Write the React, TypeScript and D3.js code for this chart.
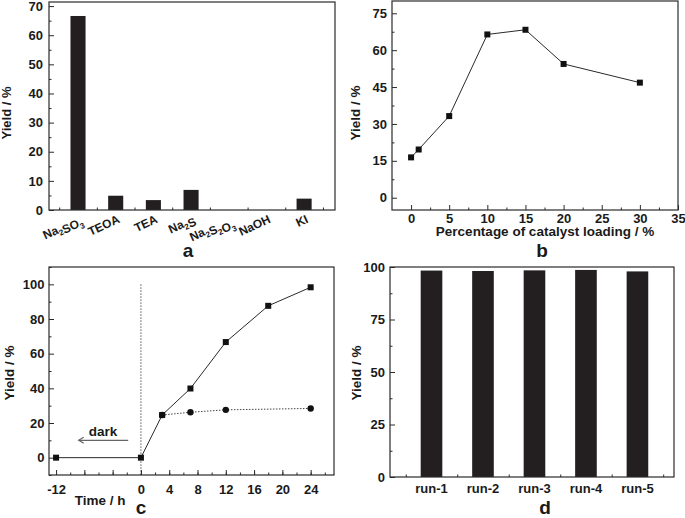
import * as d3 from 'd3';
import { useEffect, useRef } from 'react';

// panel a: sacrificial agents
const reagents = ['Na2SO3', 'TEOA', 'TEA', 'Na2S', 'Na2S2O3', 'NaOH', 'KI'];
const reagentYield = [66.6, 4.9, 3.4, 6.9, 0, 0, 3.9];
const yTicksA = [0, 10, 20, 30, 40, 50, 60, 70];

// panel b: catalyst loading
const loading = [0, 1, 5, 10, 15, 20, 30];
const loadingYield = [16.4, 19.6, 33.2, 66.4, 68.3, 54.4, 46.8];
const xTicksB = [0, 5, 10, 15, 20, 25, 30, 35];
const yTicksB = [0, 15, 30, 45, 60, 75];

// panel c: time course
const timeLight = [-12, 0, 3, 7, 12, 18, 24];
const yieldLight = [0, 0, 24.6, 39.9, 66.7, 87.6, 98.3];
const timeDark = [3, 7, 12, 24];
const yieldDark = [24.6, 26.2, 27.6, 28.4];
const xTicksC = [-12, 0, 4, 8, 12, 16, 20, 24];
const yTicksC = [0, 20, 40, 60, 80, 100];

// panel d: recycling
const runs = ['run-1', 'run-2', 'run-3', 'run-4', 'run-5'];
const runYield = [98.3, 98.1, 98.4, 98.6, 97.9];
const yTicksD = [0, 25, 50, 75, 100];

const font = "'Liberation Sans', Arial, sans-serif";
const ink = '#2a2a2a';
const barFill = '#231f20';
const tickSize = 13;
const titleSize = 13.5;

type G = d3.Selection<SVGGElement, unknown, null, undefined>;
type Lin = d3.ScaleLinear<number, number>;

function range(a: number, b: number, s: number) {
  return d3.range(a, b + s / 2, s);
}

function frame(
  g: G, x: Lin, y: Lin,
  o: { xMajor: number[]; xMinor: number[]; xLabels: boolean; xPad: number;
       yMajor: number[]; yMinor: number[]; yPad: number; xFmt?: (d: number) => string }
) {
  const [x0, x1] = x.range();
  const [y0, y1] = y.range();
  const bottom = g.append('g').attr('transform', `translate(0,${y0})`);
  bottom.call(d3.axisBottom(x).tickValues(o.xMinor).tickSize(-2.5).tickFormat(() => ''));
  bottom.append('g').call(
    d3.axisBottom(x).tickValues(o.xMajor).tickSize(-5).tickPadding(o.xPad)
      .tickFormat((d) => (o.xLabels ? (o.xFmt ? o.xFmt(+d) : String(d)) : ''))
  );
  const left = g.append('g').attr('transform', `translate(${x0},0)`);
  left.call(d3.axisLeft(y).tickValues(o.yMinor).tickSize(-2.5).tickFormat(() => ''));
  left.append('g').call(
    d3.axisLeft(y).tickValues(o.yMajor).tickSize(-5).tickPadding(o.yPad).tickFormat((d) => String(d))
  );
  g.selectAll('.domain').remove();
  g.selectAll('.tick line').attr('stroke', ink).attr('stroke-width', 1);
  g.selectAll('.tick text')
    .attr('font-family', font).attr('font-weight', 'bold').attr('font-size', tickSize).attr('fill', '#1a1a1a');
  g.append('rect')
    .attr('x', x0).attr('y', y1).attr('width', x1 - x0).attr('height', y0 - y1)
    .attr('fill', 'none').attr('stroke', ink).attr('stroke-width', 1.2);
}

function label(g: G, txt: string, x: number, y: number, size: number, rotate = false) {
  g.append('text')
    .attr('transform', rotate ? `translate(${x},${y}) rotate(-90)` : `translate(${x},${y})`)
    .attr('text-anchor', 'middle')
    .attr('font-family', font).attr('font-weight', 'bold').attr('font-size', size)
    .attr('fill', '#1a1a1a')
    .text(txt);
}

const App = () => {
  const ref = useRef<SVGSVGElement | null>(null);

  useEffect(() => {
    if (!ref.current) return;
    const svg = d3.select(ref.current);
    svg.selectAll('*').remove();

    // ---------- a ----------
    const ga: G = svg.append('g');
    const xa = d3.scaleLinear().domain([0.23, 7.82]).range([49, 335]);
    const ya = d3.scaleLinear().domain([0, 71.4]).range([210, 2]);
    ga.selectAll('rect.bar').data(reagentYield).enter().append('rect')
      .attr('class', 'bar')
      .attr('x', (_, i) => xa(i + 1) - (xa(1.2) - xa(1)))
      .attr('width', (xa(1.4) - xa(1)))
      .attr('y', (d) => ya(d))
      .attr('height', (d) => ya(0) - ya(d))
      .attr('fill', barFill);
    frame(ga, xa, ya, {
      xMajor: [], xMinor: range(0.5, 7.5, 1), xLabels: false, xPad: 5,
      yMajor: yTicksA, yMinor: range(5, 65, 10), yPad: 6,
    });
    reagents.forEach((name, i) => {
      const t = ga.append('text')
        .attr('transform', `translate(${xa(i + 1) + 5},${222}) rotate(-25)`)
        .attr('text-anchor', 'end')
        .attr('font-family', font).attr('font-weight', 'bold').attr('font-size', 12)
        .attr('fill', '#1a1a1a');
      const parts = name.match(/[A-Za-z]+|\d+/g) || [];
      parts.forEach((p) => {
        if (/\d/.test(p)) {
          t.append('tspan').attr('font-size', 8).attr('dy', 3).text(p);
          t.append('tspan').attr('dy', -3).text('');
        } else {
          t.append('tspan').text(p);
        }
      });
    });
    label(ga, 'Yield / %', 10.5, 113, 13, true);
    label(ga, 'a', 188, 257, 19);

    // ---------- b ----------
    const gb: G = svg.append('g');
    const xb = d3.scaleLinear().domain([-2.5, 35]).range([392, 678]);
    const yb = d3.scaleLinear().domain([-5, 80]).range([210, 1]);
    frame(gb, xb, yb, {
      xMajor: xTicksB, xMinor: range(2.5, 32.5, 5), xLabels: true, xPad: 4,
      yMajor: yTicksB, yMinor: range(7.5, 67.5, 15), yPad: 5,
    });
    const lineB = d3.line<number>().x((_, i) => xb(loading[i])).y((d) => yb(d));
    gb.append('path').attr('d', lineB(loadingYield)).attr('fill', 'none')
      .attr('stroke', ink).attr('stroke-width', 1);
    gb.selectAll('rect.pt').data(loadingYield).enter().append('rect')
      .attr('x', (_, i) => xb(loading[i]) - 3).attr('y', (d) => yb(d) - 3)
      .attr('width', 6).attr('height', 6).attr('fill', '#111');
    label(gb, 'Yield / %', 360, 113, titleSize, true);
    label(gb, 'Percentage of catalyst loading / %', 545, 235.5, titleSize);
    label(gb, 'b', 542, 257, 19);

    // ---------- c ----------
    const gc: G = svg.append('g');
    const xc = d3.scaleLinear().domain([-13, 27.3]).range([49, 334]);
    const yc = d3.scaleLinear().domain([-10, 110]).range([475, 267]);
    frame(gc, xc, yc, {
      xMajor: range(-12, 24, 4), xMinor: range(-10, 26, 2), xLabels: true, xPad: 9.5,
      yMajor: yTicksC, yMinor: range(-10, 110, 10).filter((d) => d % 20 !== 0), yPad: 4.5,
      xFmt: (d) => (xTicksC.includes(d) ? String(d) : ''),
    });
    gc.append('line')
      .attr('x1', xc(0)).attr('x2', xc(0)).attr('y1', yc(100)).attr('y2', yc(-10))
      .attr('stroke', ink).attr('stroke-width', 0.8).attr('stroke-dasharray', '1.5,1.5');
    const lineDark = d3.line<number>().x((_, i) => xc(timeDark[i])).y((d) => yc(d));
    gc.append('path').attr('d', lineDark(yieldDark)).attr('fill', 'none')
      .attr('stroke', '#444').attr('stroke-width', 1).attr('stroke-dasharray', '1.5,1.5');
    gc.selectAll('circle.pt').data(yieldDark).enter().append('circle')
      .attr('cx', (_, i) => xc(timeDark[i])).attr('cy', (d) => yc(d)).attr('r', 3.2).attr('fill', '#111');
    const lineLight = d3.line<number>().x((_, i) => xc(timeLight[i])).y((d) => yc(d));
    gc.append('path').attr('d', lineLight(yieldLight)).attr('fill', 'none')
      .attr('stroke', ink).attr('stroke-width', 1);
    gc.selectAll('rect.pt').data(yieldLight).enter().append('rect')
      .attr('x', (_, i) => xc(timeLight[i]) - 3).attr('y', (d) => yc(d) - 3)
      .attr('width', 6).attr('height', 6).attr('fill', '#111');
    // dark arrow
    const ay = yc(10);
    const ax = xc(-8.8);
    gc.append('line').attr('x1', xc(-1.8)).attr('x2', ax).attr('y1', ay).attr('y2', ay)
      .attr('stroke', '#666').attr('stroke-width', 1.3);
    gc.append('path')
      .attr('d', `M${ax + 5},${ay - 3} L${ax},${ay} L${ax + 5},${ay + 3}`)
      .attr('fill', 'none').attr('stroke', '#666').attr('stroke-width', 1.2);
    label(gc, 'dark', 103, 436, 13.5);
    label(gc, 'Yield / %', 14, 373, titleSize, true);
    label(gc, 'Time / h', 100, 505, titleSize);
    label(gc, 'c', 141, 514, 19);

    // ---------- d ----------
    const gd: G = svg.append('g');
    const xd = d3.scaleLinear().domain([0.194, 5.71]).range([390, 674]);
    const yd = d3.scaleLinear().domain([0, 100]).range([477, 267]);
    gd.selectAll('rect.bar').data(runYield).enter().append('rect')
      .attr('class', 'bar')
      .attr('x', (_, i) => xd(i + 1) - (xd(1.21) - xd(1)))
      .attr('width', xd(1.42) - xd(1))
      .attr('y', (d) => yd(d))
      .attr('height', (d) => yd(0) - yd(d))
      .attr('fill', barFill);
    frame(gd, xd, yd, {
      xMajor: [], xMinor: range(0.5, 5.5, 1), xLabels: false, xPad: 5,
      yMajor: yTicksD, yMinor: range(12.5, 87.5, 25), yPad: 5,
    });
    runs.forEach((r, i) => {
      gd.append('text')
        .attr('x', xd(i + 1)).attr('y', 493)
        .attr('text-anchor', 'middle')
        .attr('font-family', font).attr('font-weight', 'bold').attr('font-size', tickSize)
        .attr('fill', '#1a1a1a')
        .text(r);
    });
    label(gd, 'Yield / %', 361, 373, titleSize, true);
    label(gd, 'd', 545, 514, 19);
  }, []);

  return (
    <svg ref={ref} width={685} height={518}
      style={{ position: 'absolute', left: 0, top: 0, background: '#fff' }} />
  );
};

export default App;
